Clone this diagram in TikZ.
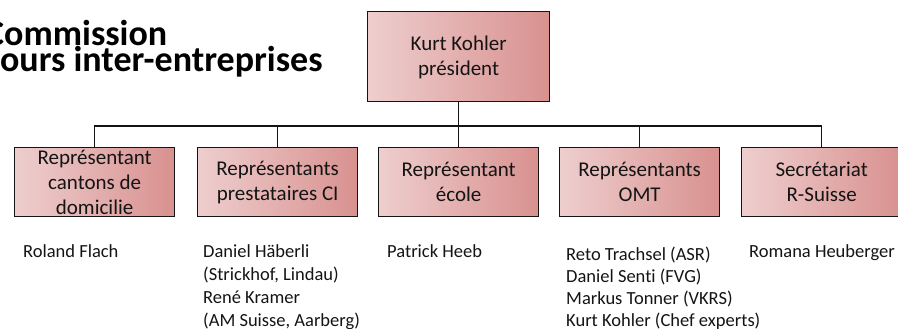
\documentclass[tikz,border=0pt]{standalone}
\usepackage{fontspec}
\setmainfont{Carlito}[Ligatures=NoCommon]
\definecolor{boxL}{RGB}{238,206,206}
\definecolor{boxR}{RGB}{216,145,143}
\definecolor{ink}{RGB}{20,20,20}
\begin{document}
\begin{tikzpicture}[x=1pt,y=-1pt,
  box/.style={draw=ink, line width=1.3pt, left color=boxL, right color=boxR,
    minimum width=160pt, minimum height=69pt, inner sep=0pt, anchor=north west},
  boxtext/.style={align=center, font=\fontsize{21}{25}\selectfont, text=ink, inner sep=0pt},
  people/.style={align=left, font=\fontsize{18.5}{23}\selectfont, text=ink, inner sep=0pt, anchor=base west},
  titletext/.style={align=left, font=\fontsize{36}{27}\selectfont\bfseries, text=black, inner sep=0pt, anchor=base west},
  conn/.style={line width=1.3pt, draw=ink}]
\useasboundingbox (0,0) rectangle (898,329);
\clip (0,0) rectangle (898,329);
% title
\node[titletext] (t1) at (-15,45.5) {Commission};
\node[titletext] (t2) at (-15,72) {cours inter-entreprises};
% boxes
\node[box, minimum width=182pt, minimum height=90pt] (pres) at (367,11) {};
\node[boxtext] (presT) at ([yshift=-1pt]pres.center) {Kurt Kohler\\président};
\node[box] (b1) at (14,147) {};
\node[box] (b2) at (197,147) {};
\node[box] (b3) at (378,147) {};
\node[box] (b4) at (559,147) {};
\node[box] (b5) at (741,147) {};
\node[boxtext] (b1T) at (b1.center) {Représentant\\cantons de\\domicilie};
\node[boxtext] (b2T) at (b2.center) {Représentants\\prestataires CI};
\node[boxtext] (b3T) at (b3.center) {Représentant\\école};
\node[boxtext] (b4T) at (b4.center) {Représentants\\OMT};
\node[boxtext] (b5T) at (b5.center) {Secrétariat\\R-Suisse};
% connectors
\coordinate (bus) at (0,126);
\draw[conn] (pres.south) -- (pres.south |- bus);
\draw[conn] (b1.north) -- (b1.north |- bus) -- (b5.north |- bus) -- (b5.north);
\draw[conn] (b2.north) -- (b2.north |- bus);
\draw[conn] (b3.north) -- (b3.north |- bus);
\draw[conn] (b4.north) -- (b4.north |- bus);
% people (anchor = baseline of the last line)
\node[people] (p1) at (23,257) {Roland Flach};
\node[people] (p2) at (203,326) {Daniel Häberli\\(Strickhof, Lindau)\\René Kramer\\(AM Suisse, Aarberg)};
\node[people] (p3) at (387,257) {Patrick Heeb};
\node[people, font=\fontsize{18.5}{22}\selectfont] (p4) at (566,326.5) {Reto Trachsel (ASR)\\Daniel Senti (FVG)\\Markus Tonner (VKRS)\\Kurt Kohler (Chef experts)};
\node[people] (p5) at (749,257) {Romana Heuberger};
\end{tikzpicture}
\end{document}
